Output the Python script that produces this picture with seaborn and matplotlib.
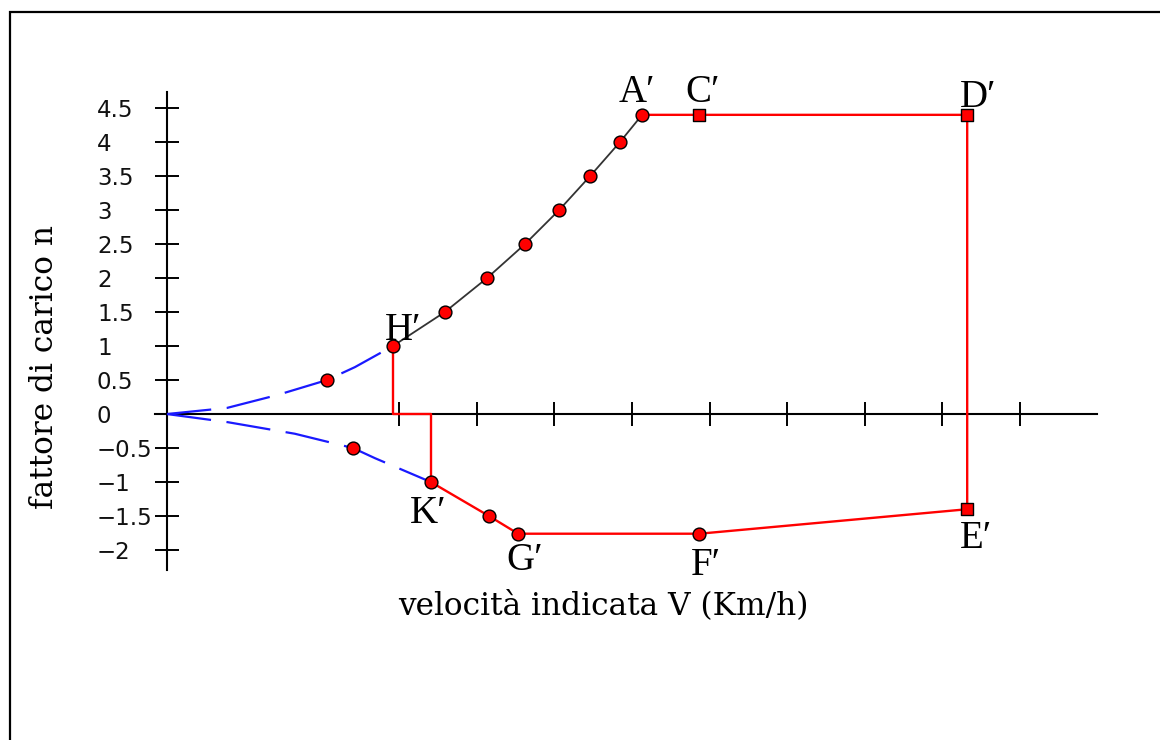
import matplotlib
matplotlib.use("Agg")
import matplotlib.pyplot as plt
from matplotlib.patches import Rectangle
import seaborn as sns

# --- data: indicated airspeed V (km/h) and load factor n ---------------
# positive stall curve (origin -> H')
pos_stall_v = [0, 15.5, 28.5, 41.3, 48.5, 58.3]
pos_stall_n = [0, 0.09, 0.28, 0.5, 0.69, 1.0]
# negative stall curve (origin -> K')
neg_stall_v = [0, 15.7, 33.0, 48.0, 53.7, 68.1]
neg_stall_n = [0, -0.12, -0.29, -0.5, -0.65, -1.0]
# positive lift-limited curve H' -> A'
lift_v = [58.3, 71.7, 82.6, 92.4, 101.2, 109.2, 116.9, 122.6]
lift_n = [1.0, 1.5, 2.0, 2.5, 3.0, 3.5, 4.0, 4.4]
# structural envelope A' -> C' -> D' -> E' -> F' -> G' -> K'
env_v = [122.6, 137.4, 206.5, 206.5, 137.4, 90.6, 83.1, 68.1]
env_n = [4.4, 4.4, 4.4, -1.4, -1.76, -1.76, -1.5, -1.0]
# link between H' and K' along the zero axis
link_v = [58.3, 58.3, 68.1, 68.1]
link_n = [1.0, 0.0, 0.0, -1.0]

# round markers and square markers
dot_v = [41.3, 58.3, 71.7, 82.6, 92.4, 101.2, 109.2, 116.9, 122.6,
         48.0, 68.1, 83.1, 90.6, 137.4]
dot_n = [0.5, 1.0, 1.5, 2.0, 2.5, 3.0, 3.5, 4.0, 4.4,
         -0.5, -1.0, -1.5, -1.76, -1.76]
sq_v = [137.4, 206.5, 206.5]
sq_n = [4.4, 4.4, -1.4]

# point names
point_names = ["A\u2032", "C\u2032", "D\u2032", "H\u2032", "K\u2032", "G\u2032", "F\u2032", "E\u2032"]
name_v = [121.3, 138.3, 209.3, 60.9, 67.4, 92.4, 139.1, 208.8]
name_n = [4.59, 4.59, 4.51, 1.09, -1.60, -2.29, -2.37, -1.97]

x_ticks = [60, 80, 100, 120, 140, 160, 180, 200, 220]
y_ticks = [4.5, 4, 3.5, 3, 2.5, 2, 1.5, 1, 0.5, 0, -0.5, -1, -1.5, -2]
y_tick_labels = ["4.5", "4", "3.5", "3", "2.5", "2", "1.5", "1", "0.5", "0",
                 "\u22120.5", "\u22121", "\u22121.5", "\u22122"]

x_label = "velocit\u00e0 indicata V (Km/h)"
y_label = "fattore di carico n"

# --- figure -------------------------------------------------------------
sns.set_style("white")
plt.rcParams["font.family"] = ["DejaVu Sans"]

fig = plt.figure(figsize=(11.6, 7.4), dpi=100)
ax = fig.add_axes([0.1336, 0.2297, 0.8121, 0.6459])
ax.set_xlim(-3.1, 240)
ax.set_ylim(-2.294, 4.735)

RED = "#ff0000"
BLUE = "#1a1aff"

sns.lineplot(x=pos_stall_v, y=pos_stall_n, ax=ax, estimator=None, sort=False,
             color=BLUE, lw=1.6, linestyle=(0, (20, 7)))
sns.lineplot(x=neg_stall_v, y=neg_stall_n, ax=ax, estimator=None, sort=False,
             color=BLUE, lw=1.6, linestyle=(0, (20, 7)))
sns.lineplot(x=lift_v, y=lift_n, ax=ax, estimator=None, sort=False,
             color="#333333", lw=1.3)
sns.lineplot(x=env_v, y=env_n, ax=ax, estimator=None, sort=False,
             color=RED, lw=1.7)
sns.lineplot(x=link_v, y=link_n, ax=ax, estimator=None, sort=False,
             color=RED, lw=1.7)

sns.scatterplot(x=dot_v, y=dot_n, ax=ax, marker="o", s=85, color=RED,
                edgecolor="black", linewidth=1.0, zorder=5, clip_on=False)
sns.scatterplot(x=sq_v, y=sq_n, ax=ax, marker="s", s=70, color=RED,
                edgecolor="black", linewidth=1.0, zorder=5, clip_on=False)

for name, v, n in zip(point_names, name_v, name_n):
    ax.text(v, n, name, ha="center", va="baseline", fontsize=28,
            family=["Liberation Serif", "DejaVu Serif"], color="black")

# axes crossing at the origin
for side in ("top", "right"):
    ax.spines[side].set_visible(False)
ax.spines["left"].set_position(("data", 0))
ax.spines["bottom"].set_position(("data", 0))
for side in ("left", "bottom"):
    ax.spines[side].set_linewidth(1.5)
    ax.spines[side].set_color("black")
    ax.spines[side].set_zorder(1)

ax.set_xticks(x_ticks)
ax.set_yticks(y_ticks, y_tick_labels, ha="left")
ax.tick_params(axis="both", direction="inout", length=17, width=1.4,
               color="black", bottom=True, left=True)
ax.tick_params(axis="x", labelbottom=False)
ax.tick_params(axis="y", pad=41.9, labelsize=16.5, labelcolor="#111111")

ax.set_xlabel(x_label, fontsize=22.5, family=["DejaVu Serif"], color="black")
ax.xaxis.set_label_coords(0.4756, -0.042)
ax.set_ylabel(y_label, fontsize=22.5, family=["DejaVu Serif"], va="center",
              color="black")
ax.yaxis.set_label_coords(-0.1168, 0.4247)

# outer frame
fig.patches.append(Rectangle((10 / 1160, -0.1), 1.2, 1.1 - 12 / 740,
                             transform=fig.transFigure, fill=False,
                             lw=1.6, ec="black"))

fig.savefig("out.png", dpi=100)
